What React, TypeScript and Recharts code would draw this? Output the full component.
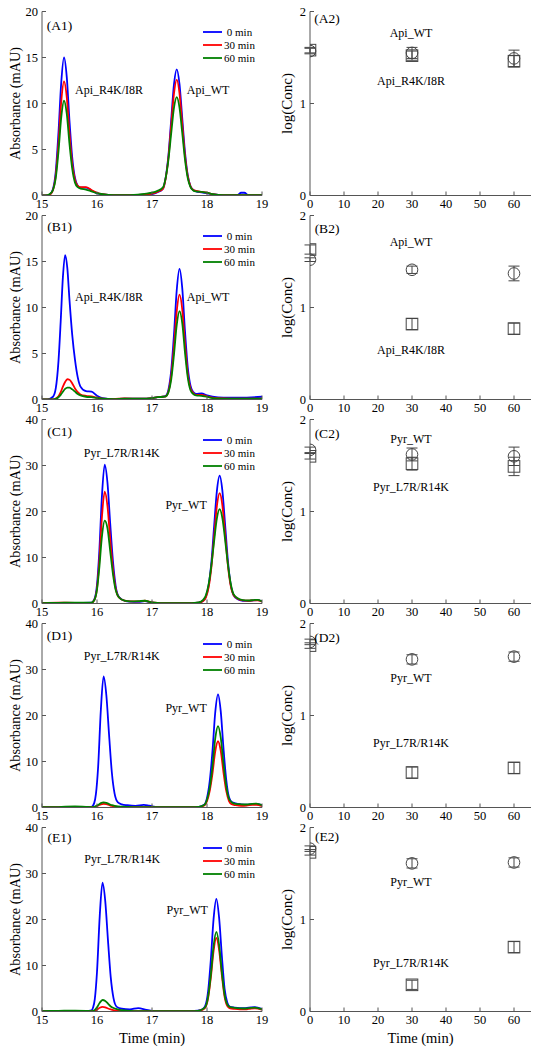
import React from 'react';
import { LineChart, Line, XAxis, YAxis, ComposedChart, Scatter, ErrorBar, ReferenceDot, Legend } from 'recharts';

const FONT = "'Liberation Serif', 'Times New Roman', serif";
const AXIS = '#555';
const MARK = '#444';
const BLUE = '#0000ff';
const RED = '#ff0000';
const GREEN = '#008000';

// ---------- tick labels / categories ----------
const seriesNames = ['0 min', '30 min', '60 min'];
const timeTicks = [15, 16, 17, 18, 19];
const apiAbsTicks = [0, 5, 10, 15, 20];
const pyrAbsTicks = [0, 10, 20, 30, 40];
const concXTicks = [0, 10, 20, 30, 40, 50, 60];
const concYTicks = [0, 1, 2];
const sampleTimes = [0, 30, 60];

// ---------- panel A1 ----------
const aTime = [15.0, 15.1, 15.15, 15.2, 15.25, 15.3, 15.35, 15.4, 15.45, 15.5, 15.55, 15.6, 15.65, 15.7, 15.8, 15.9, 16.0, 16.1, 16.3, 16.6, 16.9, 17.0, 17.1, 17.2, 17.25, 17.3, 17.35, 17.4, 17.45, 17.5, 17.55, 17.6, 17.65, 17.7, 17.75, 17.8, 17.9, 18.0, 18.1, 18.3, 18.55, 18.62, 18.68, 18.75, 19.0];
const aBlue = [0, 0.02, 0.15, 0.7, 2.6, 6.9, 12.3, 15.0, 12.9, 8.1, 4.1, 1.9, 1.05, 0.85, 0.85, 0.55, 0.25, 0.12, 0.05, 0.05, 0.1, 0.15, 0.35, 0.75, 2.0, 4.45, 8.3, 12.1, 13.7, 12.1, 8.4, 4.7, 2.2, 1.0, 0.6, 0.45, 0.35, 0.25, 0.15, 0.05, 0.05, 0.3, 0.3, 0.05, 0.03];
const aRed = [0, 0.02, 0.12, 0.6, 2.2, 5.7, 10.2, 12.4, 10.7, 6.7, 3.4, 1.7, 1.05, 0.9, 0.9, 0.6, 0.3, 0.15, 0.05, 0.05, 0.12, 0.2, 0.4, 0.75, 1.9, 4.2, 7.7, 11.1, 12.6, 11.1, 7.7, 4.3, 2.1, 1.0, 0.6, 0.5, 0.4, 0.3, 0.15, 0.05, 0.05, 0.05, 0.05, 0.05, 0.03];
const aGreen = [0, 0.05, 0.2, 0.6, 1.9, 4.8, 8.5, 10.3, 8.9, 5.6, 2.9, 1.4, 0.9, 0.75, 0.65, 0.45, 0.25, 0.15, 0.05, 0.05, 0.2, 0.3, 0.5, 0.9, 1.95, 3.95, 6.8, 9.55, 10.7, 9.55, 6.8, 3.9, 1.9, 0.9, 0.55, 0.45, 0.4, 0.3, 0.15, 0.05, 0.05, 0.05, 0.05, 0.05, 0.03];

// ---------- panel B1 ----------
const bTime = [15.0, 15.1, 15.2, 15.25, 15.3, 15.34, 15.38, 15.42, 15.46, 15.5, 15.55, 15.6, 15.65, 15.7, 15.8, 15.9, 16.0, 16.1, 16.3, 16.5, 16.8, 17.0, 17.1, 17.2, 17.25, 17.3, 17.35, 17.4, 17.45, 17.5, 17.55, 17.6, 17.65, 17.7, 17.75, 17.8, 17.9, 18.0, 18.1, 18.3, 18.6, 19.0];
const bBlue = [0, 0.02, 0.3, 1.2, 4.2, 8.5, 13.3, 15.7, 14.3, 10.8, 7.0, 4.3, 2.4, 1.4, 0.9, 0.85, 0.4, 0.15, 0.05, 0.1, 0.08, 0.15, 0.25, 0.3, 0.4, 1.1, 3.2, 7.1, 11.9, 14.2, 12.1, 7.4, 3.5, 1.5, 0.8, 0.6, 0.65, 0.45, 0.3, 0.2, 0.2, 0.3];
const bRed = [0, 0, 0.02, 0.1, 0.35, 0.8, 1.4, 1.9, 2.2, 2.15, 1.75, 1.2, 0.8, 0.55, 0.4, 0.35, 0.2, 0.1, 0.05, 0.12, 0.08, 0.15, 0.25, 0.3, 0.35, 0.9, 2.6, 5.8, 9.6, 11.4, 9.8, 6.0, 2.8, 1.2, 0.7, 0.5, 0.5, 0.35, 0.2, 0.12, 0.1, 0.1];
const bGreen = [0, 0, 0.02, 0.08, 0.25, 0.5, 0.85, 1.15, 1.3, 1.28, 1.1, 0.85, 0.6, 0.45, 0.3, 0.25, 0.15, 0.08, 0.05, 0.1, 0.08, 0.15, 0.25, 0.3, 0.35, 0.8, 2.2, 4.9, 8.1, 9.6, 8.3, 5.1, 2.4, 1.0, 0.6, 0.45, 0.4, 0.3, 0.15, 0.1, 0.08, 0.08];

// ---------- panel C1 ----------
const cTime = [15.0, 15.3, 15.6, 15.9, 15.95, 16.0, 16.04, 16.09, 16.14, 16.19, 16.24, 16.29, 16.34, 16.4, 16.5, 16.6, 16.75, 16.87, 17.0, 17.3, 17.6, 17.85, 17.93, 17.98, 18.03, 18.08, 18.13, 18.18, 18.23, 18.28, 18.33, 18.38, 18.43, 18.48, 18.55, 18.65, 18.75, 18.85, 18.92, 19.0];
const cBlue = [0.1, 0.15, 0.15, 0.2, 0.85, 4.1, 10.9, 23.4, 30.2, 26.3, 17.4, 9.2, 3.8, 1.4, 0.6, 0.4, 0.35, 0.5, 0.2, 0.05, 0.05, 0.2, 0.6, 1.5, 4.0, 9.0, 16.9, 24.5, 27.8, 24.5, 17.0, 9.3, 4.2, 1.9, 1.0, 0.6, 0.55, 0.7, 0.75, 0.45];
const cRed = [0.1, 0.2, 0.15, 0.15, 0.7, 3.3, 8.8, 18.8, 24.3, 21.2, 14.0, 7.5, 3.2, 1.3, 0.6, 0.45, 0.45, 0.6, 0.25, 0.05, 0.05, 0.2, 0.55, 1.35, 3.5, 7.9, 14.6, 21.2, 24.0, 21.3, 14.9, 8.3, 3.9, 1.9, 1.1, 0.7, 0.6, 0.7, 0.7, 0.4];
const cGreen = [0.1, 0.15, 0.2, 0.2, 0.7, 3.0, 7.5, 14.6, 18.0, 16.4, 11.4, 6.4, 2.9, 1.3, 0.6, 0.45, 0.5, 0.6, 0.25, 0.05, 0.05, 0.25, 0.8, 1.8, 4.2, 8.3, 13.6, 18.5, 20.5, 18.5, 13.8, 8.5, 4.4, 2.1, 1.2, 0.75, 0.65, 0.75, 0.8, 0.45];

// ---------- panel D1 ----------
const dTime = [15.0, 15.3, 15.6, 15.8, 15.9, 15.95, 15.98, 16.02, 16.07, 16.12, 16.17, 16.22, 16.27, 16.32, 16.38, 16.45, 16.55, 16.7, 16.85, 16.95, 17.1, 17.4, 17.7, 17.85, 17.95, 18.0, 18.05, 18.1, 18.15, 18.2, 18.25, 18.3, 18.35, 18.4, 18.45, 18.52, 18.62, 18.72, 18.82, 18.9, 19.0];
const dBlue = [0.05, 0.1, 0.15, 0.1, 0.15, 1.0, 2.9, 8.7, 21.2, 28.5, 24.4, 15.7, 7.6, 3.0, 1.1, 0.7, 0.5, 0.35, 0.55, 0.4, 0.1, 0.1, 0.1, 0.15, 0.6, 2.1, 5.8, 12.3, 20.7, 24.6, 20.9, 12.8, 6.0, 2.2, 1.2, 0.9, 0.7, 0.6, 0.75, 0.8, 0.5];
const dRed = [0.05, 0.1, 0.15, 0.1, 0.05, 0.1, 0.2, 0.4, 0.7, 0.8, 0.75, 0.55, 0.35, 0.25, 0.15, 0.1, 0.08, 0.05, 0.1, 0.05, 0.05, 0.05, 0.05, 0.1, 0.45, 1.4, 3.6, 7.4, 12.2, 14.4, 12.3, 7.6, 3.6, 1.4, 0.7, 0.5, 0.35, 0.4, 0.6, 0.55, 0.3];
const dGreen = [0.05, 0.1, 0.25, 0.15, 0.1, 0.15, 0.3, 0.55, 0.95, 1.1, 1.0, 0.75, 0.5, 0.35, 0.25, 0.2, 0.15, 0.1, 0.1, 0.08, 0.05, 0.05, 0.05, 0.15, 0.55, 1.7, 4.3, 9.0, 15.0, 17.7, 15.2, 9.5, 4.6, 1.9, 1.1, 0.8, 0.7, 0.65, 0.8, 0.85, 0.5];

// ---------- panel E1 ----------
const eTime = [15.0, 15.3, 15.6, 15.8, 15.9, 15.93, 15.96, 16.0, 16.05, 16.1, 16.15, 16.2, 16.25, 16.3, 16.36, 16.45, 16.6, 16.75, 16.9, 17.05, 17.4, 17.7, 17.83, 17.92, 17.97, 18.02, 18.07, 18.12, 18.17, 18.22, 18.27, 18.32, 18.37, 18.42, 18.5, 18.6, 18.7, 18.8, 18.87, 19.0];
const eBlue = [0.1, 0.1, 0.15, 0.1, 0.25, 0.9, 2.7, 8.6, 20.8, 28.0, 24.0, 15.4, 7.4, 2.9, 1.0, 0.6, 0.45, 0.75, 0.35, 0.1, 0.1, 0.1, 0.2, 0.5, 1.3, 4.4, 11.3, 20.2, 24.5, 20.4, 12.1, 4.9, 1.9, 1.0, 0.85, 0.75, 0.75, 0.9, 0.95, 0.55];
const eRed = [0.05, 0.1, 0.15, 0.1, 0.05, 0.08, 0.15, 0.4, 0.8, 1.0, 0.9, 0.65, 0.45, 0.3, 0.2, 0.1, 0.05, 0.05, 0.05, 0.05, 0.05, 0.05, 0.1, 0.4, 0.85, 2.9, 7.4, 13.2, 16.0, 13.4, 7.9, 3.2, 1.2, 0.7, 0.55, 0.45, 0.45, 0.65, 0.7, 0.4];
const eGreen = [0.1, 0.15, 0.2, 0.15, 0.1, 0.15, 0.35, 0.9, 1.9, 2.5, 2.3, 1.7, 1.1, 0.75, 0.5, 0.3, 0.15, 0.1, 0.1, 0.05, 0.05, 0.05, 0.15, 0.5, 1.0, 3.2, 8.0, 14.3, 17.3, 14.5, 8.6, 3.6, 1.5, 0.95, 0.8, 0.7, 0.65, 0.8, 0.85, 0.5];

// ---------- log(Conc) panels: circles = WT, squares = mutant ----------
const a2Circle = [1.57, 1.55, 1.49];
const a2CircleErr = [0.03, 0.06, 0.09];
const a2Square = [1.58, 1.52, 1.46];
const a2SquareErr = [0.03, 0.05, 0.06];

const b2Circle = [1.52, 1.41, 1.37];
const b2CircleErr = [0.02, 0.04, 0.08];
const b2Square = [1.63, 0.82, 0.77];
const b2SquareErr = [0.05, 0.06, 0.06];

const c2Circle = [1.67, 1.62, 1.6];
const c2CircleErr = [0.03, 0.07, 0.1];
const c2Square = [1.6, 1.52, 1.49];
const c2SquareErr = [0.03, 0.07, 0.1];

const d2Circle = [1.8, 1.61, 1.64];
const d2CircleErr = [0.03, 0.05, 0.05];
const d2Square = [1.76, 0.38, 0.43];
const d2SquareErr = [0.03, 0.06, 0.06];

const e2Circle = [1.77, 1.61, 1.62];
const e2CircleErr = [0.03, 0.05, 0.05];
const e2Square = [1.73, 0.29, 0.7];
const e2SquareErr = [0.03, 0.05, 0.06];

// ---------- text ----------
const apiWT = 'Api_WT';
const apiMut = 'Api_R4K/I8R';
const pyrWT = 'Pyr_WT';
const pyrMut = 'Pyr_L7R/R14K';

// ---------- layout ----------
const PITCH = 204;
const PLOT_TOP = 11.5;
const PLOT_H = 184;
const CH_H = 240;
const XAX_H = 30;
const LEFT_W = 270;
const LEFT_YAX = 42;
const RIGHT_W = 269;
const RIGHT_YAX = 40;

const BottomTick = (p: any) => (
  <g>
    <line x1={p.x} x2={p.x} y1={p.y} y2={p.y - 4} stroke={AXIS} strokeWidth={1} />
    <text x={p.x} y={p.y + 12} textAnchor="middle" fontSize={12.5} fontFamily={FONT} fill="#000">
      {p.payload.value}
    </text>
  </g>
);
const TopTick = (p: any) => <line x1={p.x} x2={p.x} y1={p.y} y2={p.y + 4} stroke={AXIS} strokeWidth={1} />;
const LeftTick = (p: any) => (
  <g>
    <line x1={p.x} x2={p.x + 4} y1={p.y} y2={p.y} stroke={AXIS} strokeWidth={1} />
    <text x={p.x - 4} y={p.y + 4.3} textAnchor="end" fontSize={12.5} fontFamily={FONT} fill="#000">
      {p.payload.value}
    </text>
  </g>
);
const RightTick = (p: any) => <line x1={p.x} x2={p.x - 4} y1={p.y} y2={p.y} stroke={AXIS} strokeWidth={1} />;

const textShape = (label: string, size: number) => (p: any) => (
  <text x={p.cx} y={p.cy} textAnchor="middle" dominantBaseline="central" fontSize={size} fontFamily={FONT} fill="#000">
    {label}
  </text>
);

const LegendBox = () => (
  <svg width={74} height={44} style={{ display: 'block' }}>
    {[BLUE, RED, GREEN].map((c, i) => (
      <g key={i}>
        <line x1={3} x2={22} y1={7 + 13 * i} y2={7 + 13 * i} stroke={c} strokeWidth={1.8} />
        <text x={39.5} y={7 + 13 * i} dominantBaseline="central" textAnchor="middle" fontSize={11} fontFamily={FONT} fill="#000">
          {seriesNames[i]}
        </text>
      </g>
    ))}
  </svg>
);

const absTitle = () => (
  <text x={15} y={PLOT_TOP + PLOT_H / 2} transform={`rotate(-90 15 ${PLOT_TOP + PLOT_H / 2})`} textAnchor="middle" dominantBaseline="central" fontSize={14.3} fontFamily={FONT} fill="#000">
    Absorbance (mAU)
  </text>
);
const concTitle = () => (
  <text x={16.7} y={PLOT_TOP + PLOT_H / 2} transform={`rotate(-90 16.7 ${PLOT_TOP + PLOT_H / 2})`} textAnchor="middle" dominantBaseline="central" fontSize={15} fontFamily={FONT} fill="#000">
    log(Conc)
  </text>
);
const timeTitle = (cx: number) => () => (
  <text x={cx} y={PLOT_TOP + PLOT_H + 26} textAnchor="middle" dominantBaseline="central" fontSize={14.5} fontFamily={FONT} fill="#000">
    Time (min)
  </text>
);

type Ann = { text: string; x: number; y: number; size: number };

function ChromPanel(props: {
  row: number; time: number[]; blue: number[]; red: number[]; green: number[];
  yMax: number; yTicks: number[]; anns: Ann[]; last: boolean;
}) {
  const { row, time, blue, red, green, yMax, yTicks, anns, last } = props;
  const data = time.map((t, i) => ({ t, b: blue[i], r: red[i], g: green[i] }));
  const plotW = LEFT_W - LEFT_YAX - 8;
  return (
    <div style={{ position: 'absolute', left: 0, top: row * PITCH, width: LEFT_W, height: CH_H }}>
      <LineChart width={LEFT_W} height={CH_H} data={data}
        margin={{ top: PLOT_TOP, right: 8, bottom: CH_H - PLOT_TOP - PLOT_H - XAX_H, left: 0 }}>
        <XAxis dataKey="t" type="number" domain={[15, 19]} ticks={timeTicks} interval={0} allowDataOverflow
          tick={BottomTick} tickLine={false} tickSize={0} tickMargin={0} height={XAX_H} stroke={AXIS}
          label={last ? timeTitle(LEFT_YAX + plotW / 2) : undefined} />
        <XAxis xAxisId="top" orientation="top" type="number" domain={[15, 19]} ticks={timeTicks} interval={0} allowDataOverflow
          tick={TopTick} tickLine={false} tickSize={0} tickMargin={0} height={0} stroke={AXIS} />
        <YAxis type="number" domain={[0, yMax]} ticks={yTicks} interval={0} allowDataOverflow
          tick={LeftTick} tickLine={false} tickSize={0} tickMargin={0} width={LEFT_YAX} stroke={AXIS} label={absTitle} />
        <YAxis yAxisId="right" orientation="right" type="number" domain={[0, yMax]} ticks={yTicks} interval={0} allowDataOverflow
          tick={RightTick} tickLine={false} tickSize={0} tickMargin={0} width={0} stroke={AXIS} />
        <Line dataKey="b" type="monotone" stroke={BLUE} strokeWidth={1.8} dot={false} isAnimationActive={false} />
        <Line dataKey="r" type="monotone" stroke={RED} strokeWidth={1.8} dot={false} isAnimationActive={false} />
        <Line dataKey="g" type="monotone" stroke={GREEN} strokeWidth={1.8} dot={false} isAnimationActive={false} />
        {anns.map((a, i) => (
          <ReferenceDot key={i} x={a.x} y={a.y} r={0} ifOverflow="visible" shape={textShape(a.text, a.size)} />
        ))}
        <Legend content={LegendBox} layout="horizontal" verticalAlign="middle" align="center"
          wrapperStyle={{ left: 200, top: PLOT_TOP + 13, width: 74, height: 44 }} />
      </LineChart>
    </div>
  );
}

const CircleShape = (p: any) => <circle cx={p.cx} cy={p.cy} r={5.8} fill="none" stroke={MARK} strokeWidth={1} />;
const SquareShape = (p: any) => <rect x={p.cx - 5.8} y={p.cy - 5.8} width={11.6} height={11.6} fill="none" stroke={MARK} strokeWidth={1} />;

function ConcPanel(props: {
  row: number; circ: number[]; circErr: number[]; sq: number[]; sqErr: number[]; anns: Ann[]; last: boolean;
}) {
  const { row, circ, circErr, sq, sqErr, anns, last } = props;
  const circData = sampleTimes.map((t, i) => ({ t, v: circ[i], e: circErr[i] }));
  const sqData = sampleTimes.map((t, i) => ({ t, v: sq[i], e: sqErr[i] }));
  const plotW = RIGHT_W - RIGHT_YAX - 8;
  return (
    <div style={{ position: 'absolute', left: 270, top: row * PITCH, width: RIGHT_W, height: CH_H }}>
      <ComposedChart width={RIGHT_W} height={CH_H}
        margin={{ top: PLOT_TOP, right: 8, bottom: CH_H - PLOT_TOP - PLOT_H - XAX_H, left: 0 }}>
        <XAxis dataKey="t" type="number" domain={[0, 65]} ticks={concXTicks} interval={0} allowDataOverflow
          tick={BottomTick} tickLine={false} tickSize={0} tickMargin={0} height={XAX_H} stroke={AXIS}
          label={last ? timeTitle(RIGHT_YAX + plotW / 2) : undefined} />
        <XAxis xAxisId="top" orientation="top" type="number" domain={[0, 65]} ticks={concXTicks} interval={0} allowDataOverflow
          tick={TopTick} tickLine={false} tickSize={0} tickMargin={0} height={0} stroke={AXIS} />
        <YAxis dataKey="v" type="number" domain={[0, 2]} ticks={concYTicks} interval={0} allowDataOverflow
          tick={LeftTick} tickLine={false} tickSize={0} tickMargin={0} width={RIGHT_YAX} stroke={AXIS} label={concTitle} />
        <YAxis yAxisId="right" orientation="right" type="number" domain={[0, 2]} ticks={concYTicks} interval={0} allowDataOverflow
          tick={RightTick} tickLine={false} tickSize={0} tickMargin={0} width={0} stroke={AXIS} />
        <Scatter data={sqData} shape={SquareShape} isAnimationActive={false}>
          <ErrorBar dataKey="e" direction="y" width={5.5} stroke={MARK} strokeWidth={1} />
        </Scatter>
        <Scatter data={circData} shape={CircleShape} isAnimationActive={false}>
          <ErrorBar dataKey="e" direction="y" width={5.5} stroke={MARK} strokeWidth={1} />
        </Scatter>
        {anns.map((a, i) => (
          <ReferenceDot key={i} x={a.x} y={a.y} r={0} ifOverflow="visible" shape={textShape(a.text, a.size)} />
        ))}
      </ComposedChart>
    </div>
  );
}

const TAG = 13.5;
const ANN = 12;

export default function App() {
  return (
    <div style={{ position: 'absolute', left: 0, top: 0, width: 539, height: 1050, background: '#fff' }}>
      <ChromPanel row={0} time={aTime} blue={aBlue} red={aRed} green={aGreen} yMax={20} yTicks={apiAbsTicks} last={false}
        anns={[{ text: '(A1)', x: 15.32, y: 18.5, size: TAG }, { text: apiMut, x: 16.22, y: 11.45, size: ANN }, { text: apiWT, x: 18.02, y: 11.45, size: ANN }]} />
      <ChromPanel row={1} time={bTime} blue={bBlue} red={bRed} green={bGreen} yMax={20} yTicks={apiAbsTicks} last={false}
        anns={[{ text: '(B1)', x: 15.32, y: 18.8, size: TAG }, { text: apiMut, x: 16.22, y: 11.1, size: ANN }, { text: apiWT, x: 18.02, y: 11.1, size: ANN }]} />
      <ChromPanel row={2} time={cTime} blue={cBlue} red={cRed} green={cGreen} yMax={40} yTicks={pyrAbsTicks} last={false}
        anns={[{ text: '(C1)', x: 15.32, y: 37.3, size: TAG }, { text: pyrMut, x: 16.45, y: 32.7, size: ANN }, { text: pyrWT, x: 17.62, y: 21.5, size: ANN }]} />
      <ChromPanel row={3} time={dTime} blue={dBlue} red={dRed} green={dGreen} yMax={40} yTicks={pyrAbsTicks} last={false}
        anns={[{ text: '(D1)', x: 15.32, y: 37.4, size: TAG }, { text: pyrMut, x: 16.45, y: 32.9, size: ANN }, { text: pyrWT, x: 17.62, y: 21.6, size: ANN }]} />
      <ChromPanel row={4} time={eTime} blue={eBlue} red={eRed} green={eGreen} yMax={40} yTicks={pyrAbsTicks} last={true}
        anns={[{ text: '(E1)', x: 15.32, y: 37.8, size: TAG }, { text: pyrMut, x: 16.46, y: 33.2, size: ANN }, { text: pyrWT, x: 17.64, y: 22.0, size: ANN }]} />

      <ConcPanel row={0} circ={a2Circle} circErr={a2CircleErr} sq={a2Square} sqErr={a2SquareErr} last={false}
        anns={[{ text: '(A2)', x: 5, y: 1.92, size: TAG }, { text: apiWT, x: 29.7, y: 1.77, size: ANN }, { text: apiMut, x: 29.7, y: 1.24, size: ANN }]} />
      <ConcPanel row={1} circ={b2Circle} circErr={b2CircleErr} sq={b2Square} sqErr={b2SquareErr} last={false}
        anns={[{ text: '(B2)', x: 5, y: 1.86, size: TAG }, { text: apiWT, x: 29.7, y: 1.71, size: ANN }, { text: apiMut, x: 29.7, y: 0.54, size: ANN }]} />
      <ConcPanel row={2} circ={c2Circle} circErr={c2CircleErr} sq={c2Square} sqErr={c2SquareErr} last={false}
        anns={[{ text: '(C2)', x: 5, y: 1.85, size: TAG }, { text: pyrWT, x: 29.7, y: 1.79, size: ANN }, { text: pyrMut, x: 29.7, y: 1.27, size: ANN }]} />
      <ConcPanel row={3} circ={d2Circle} circErr={d2CircleErr} sq={d2Square} sqErr={d2SquareErr} last={false}
        anns={[{ text: '(D2)', x: 5, y: 1.85, size: TAG }, { text: pyrWT, x: 29.7, y: 1.41, size: ANN }, { text: pyrMut, x: 29.7, y: 0.7, size: ANN }]} />
      <ConcPanel row={4} circ={e2Circle} circErr={e2CircleErr} sq={e2Square} sqErr={e2SquareErr} last={true}
        anns={[{ text: '(E2)', x: 5, y: 1.9, size: TAG }, { text: pyrWT, x: 29.7, y: 1.41, size: ANN }, { text: pyrMut, x: 29.7, y: 0.53, size: ANN }]} />
    </div>
  );
}
